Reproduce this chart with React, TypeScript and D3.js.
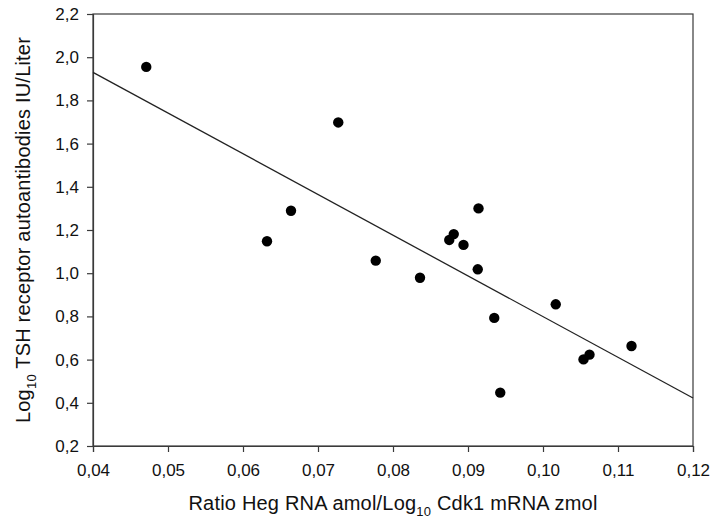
import React, { useRef, useEffect } from "react";
import * as d3 from "d3";

// ratio Heg RNA / log10 Cdk1 mRNA
const ratio = [0.0471, 0.0632, 0.0664, 0.0727, 0.0777, 0.0836, 0.0875, 0.0881, 0.0894, 0.0913, 0.0914, 0.0935, 0.0943, 0.1017, 0.1054, 0.1062, 0.1118];
// log10 TSH receptor autoantibodies
const trab = [1.955, 1.148, 1.289, 1.698, 1.058, 0.979, 1.154, 1.181, 1.131, 1.018, 1.300, 0.793, 0.447, 0.856, 0.601, 0.623, 0.663];
// regression line end points
const fitX = [0.04, 0.12];
const fitY = [1.93, 0.422];

const xTicks = [0.04, 0.05, 0.06, 0.07, 0.08, 0.09, 0.10, 0.11, 0.12];
const yTicks = [0.2, 0.4, 0.6, 0.8, 1.0, 1.2, 1.4, 1.6, 1.8, 2.0, 2.2];

const App = () => {
	const svgRef = useRef(null);
	const W = 712, H = 521;
	const left = 93, right = 693, top = 14, bottom = 446;
	const font = "Liberation Sans, Arial, sans-serif";

	useEffect(() => {
		const svg = d3.select(svgRef.current);
		svg.selectAll("*").remove();

		const x = d3.scaleLinear().domain([0.04, 0.12]).range([left, right]);
		const y = d3.scaleLinear().domain([0.2, 2.2]).range([bottom, top]);
		const fmtX = (d) => d3.format(".2f")(d).replace(".", ",");
		const fmtY = (d) => d3.format(".1f")(d).replace(".", ",");

		// frame
		svg.append("rect")
			.attr("x", left).attr("y", top)
			.attr("width", right - left).attr("height", bottom - top)
			.attr("fill", "none").attr("stroke", "#3a3a3a").attr("stroke-width", 1.2);

		const xAxis = svg.append("g")
			.attr("transform", `translate(0, ${bottom})`)
			.call(d3.axisBottom(x).tickValues(xTicks).tickFormat(fmtX).tickSizeOuter(0).tickSize(6).tickPadding(12));
		const yAxis = svg.append("g")
			.attr("transform", `translate(${left}, 0)`)
			.call(d3.axisLeft(y).tickValues(yTicks).tickFormat(fmtY).tickSizeOuter(0).tickSize(6).tickPadding(8));

		[xAxis, yAxis].forEach(a => {
			a.select(".domain").attr("stroke", "#3a3a3a").attr("stroke-width", 1.2);
			a.selectAll("line").attr("stroke", "#3a3a3a").attr("stroke-width", 1.2);
			a.selectAll("text")
				.attr("font-family", font)
				.attr("font-size", 17).attr("fill", "#111");
		});

		// regression line
		svg.append("path")
			.datum(fitX.map((d, i) => [d, fitY[i]]))
			.attr("fill", "none")
			.attr("stroke", "#222")
			.attr("stroke-width", 1.3)
			.attr("d", d3.line().x(d => x(d[0])).y(d => y(d[1])));

		// points
		svg.append("g")
			.selectAll("circle")
			.data(ratio.map((d, i) => [d, trab[i]]))
			.join("circle")
			.attr("cx", d => x(d[0]))
			.attr("cy", d => y(d[1]))
			.attr("r", 5.2)
			.attr("fill", "#000");

		// x label
		const xl = svg.append("text")
			.attr("x", (left + right) / 2).attr("y", 510)
			.attr("text-anchor", "middle")
			.attr("font-family", font)
			.attr("letter-spacing", 0.2)
			.attr("font-size", 20).attr("fill", "#111");
		xl.append("tspan").text("Ratio Heg RNA amol/Log");
		xl.append("tspan").attr("font-size", 13).attr("dy", 6).text("10");
		xl.append("tspan").attr("dy", -6).text(" Cdk1 mRNA zmol");

		// y label
		const yl = svg.append("text")
			.attr("transform", `translate(30, ${(top + bottom) / 2}) rotate(-90)`)
			.attr("text-anchor", "middle")
			.attr("font-family", font)
			.attr("letter-spacing", 0.2)
			.attr("font-size", 20).attr("fill", "#111");
		yl.append("tspan").text("Log");
		yl.append("tspan").attr("font-size", 13).attr("dy", 6).text("10");
		yl.append("tspan").attr("dy", -6).text(" TSH receptor autoantibodies IU/Liter");
	});

	return (
		<svg ref={svgRef} width={W} height={H}
			style={{ position: "absolute", left: 0, top: 0, background: "#fff" }}>
		</svg>
	);
};

export default App;
